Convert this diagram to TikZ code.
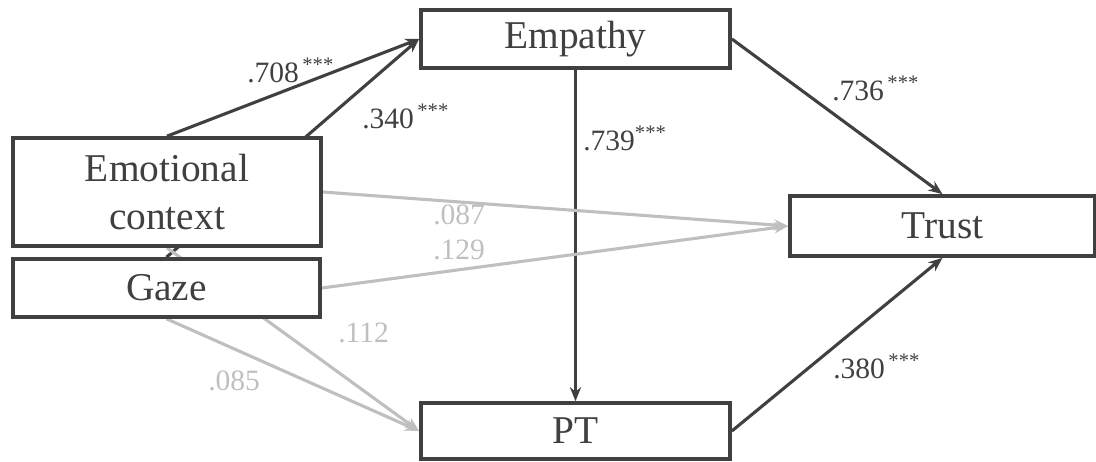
\documentclass[tikz,border=0pt]{standalone}
\usepackage{fontspec}
\setmainfont{Liberation Serif}
\usetikzlibrary{arrows.meta,backgrounds}
\definecolor{darkline}{HTML}{404040}
\definecolor{lightline}{HTML}{BFBFBF}
\tikzset{
  varbox/.style={draw=darkline, line width=2.6pt, fill=white, inner sep=0pt,
    text=darkline, font=\fontsize{28}{34}\selectfont, align=center},
  sigpath/.style={draw=darkline, line width=2.2pt, -{Stealth[length=10pt,width=8pt]}},
  nspath/.style={draw=lightline, line width=2.2pt, -{Stealth[length=10pt,width=8pt]}},
  siglabel/.style={text=darkline, font=\fontsize{21}{24}\selectfont, anchor=base west, inner sep=0pt},
  nslabel/.style={text=lightline, font=\fontsize{21}{24}\selectfont, anchor=base west, inner sep=0pt}
}
\newcommand{\stars}{\textsuperscript{\,***}}
\begin{document}
\begin{tikzpicture}[x=0.025cm, y=-0.025cm]
  \useasboundingbox (0,0) rectangle (1096,461);

  % Drawing variable boxes
  \node [varbox, minimum width=7.725cm, minimum height=1.45cm] (emp) at (575.5,39) {Empathy};
  \node [varbox, minimum width=7.7cm, minimum height=2.7cm] (emo) at (167,192) {Emotional\\context};
  \node [varbox, minimum width=7.675cm, minimum height=1.45cm] (gaze) at (166.5,288) {Gaze};
  \node [varbox, minimum width=7.625cm, minimum height=1.5cm] (trust) at (942.5,226) {Trust};
  \node [varbox, minimum width=7.725cm, minimum height=1.4cm] (pt) at (575.5,431) {PT};

  \begin{scope}[on background layer]
    % Drawing paths to Empathy
    \draw [sigpath] (emo.north) -- (emp.west);
    \draw [sigpath] (gaze.north) -- (emp.west);

    % Drawing paths to PT
    \draw [sigpath] (emp.south) -- (pt.north);
    \draw [nspath] (emo.south) -- (pt.west);
    \draw [nspath] (gaze.south) -- (pt.west);

    % Drawing paths to Trust
    \draw [nspath] (emo.east) -- (trust.west);
    \draw [nspath] (gaze.east) -- (trust.west);
    \draw [sigpath] (emp.east) -- (trust.north);
    \draw [sigpath] (pt.east) -- (trust.south);
  \end{scope}

  % Marking path coefficients
  \node [siglabel] (l708) at (247,82) {.708\stars};
  \node [siglabel] (l340) at (362,128) {.340\stars};
  \node [siglabel] (l739) at (583,150) {.739\textsuperscript{***}};
  \node [siglabel] (l736) at (832,100) {.736\stars};
  \node [siglabel] (l380) at (833,378) {.380\stars};
  \node [nslabel] (l087) at (433,224) {.087};
  \node [nslabel] (l129) at (433,259) {.129};
  \node [nslabel] (l112) at (338,342) {.112};
  \node [nslabel] (l085) at (208,390) {.085};
\end{tikzpicture}
\end{document}
